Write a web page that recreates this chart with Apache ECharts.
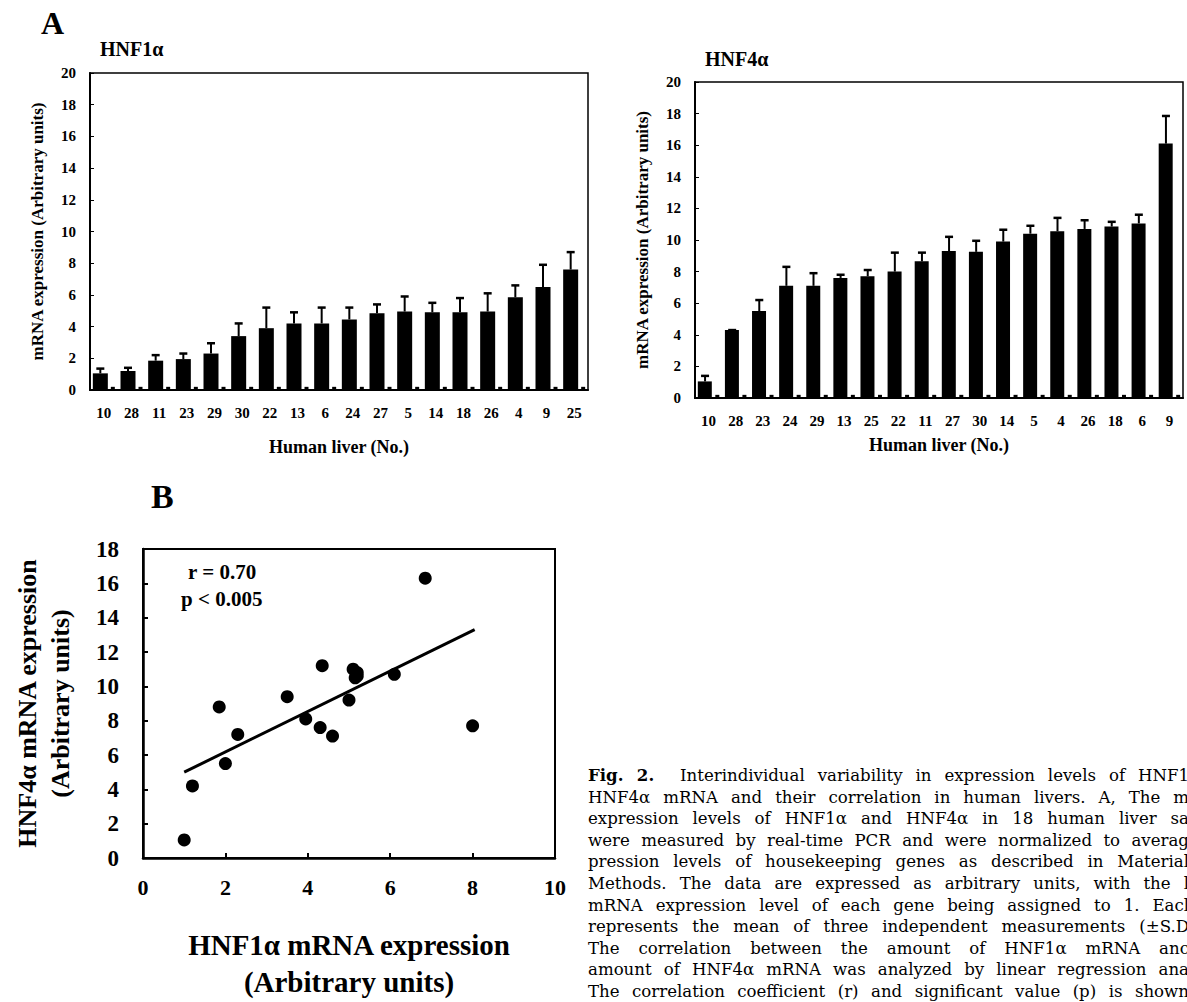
<!DOCTYPE html>
<html>
<head>
<meta charset="utf-8">
<script src="https://cdn.jsdelivr.net/npm/echarts@6/dist/echarts.min.js"></script>
<style>
  html, body { margin: 0; padding: 0; background: #fff; overflow: hidden; }
  #chart { position: absolute; left: 0; top: 0; width: 1187px; height: 1002px; }
  #caption { position: absolute; left: 588px; top: 765px; width: 601px; font-family: "DejaVu Serif"; font-size: 16.6px; color: #000; }
  #caption div { height: 21.6px; line-height: 21.6px; white-space: nowrap; text-align: justify; text-align-last: justify; }
</style>
</head>
<body>
<div id="chart"></div>
<div id="caption">
  <div><b>Fig. 2.</b>&nbsp; Interindividual variability in expression levels of HNF1</div>
  <div>HNF4α mRNA and their correlation in human livers. A, The m</div>
  <div>expression levels of HNF1α and HNF4α in 18 human liver sa</div>
  <div>were measured by real-time PCR and were normalized to averag</div>
  <div>pression levels of housekeeping genes as described in Material</div>
  <div>Methods. The data are expressed as arbitrary units, with the l</div>
  <div>mRNA expression level of each gene being assigned to 1. Eacl</div>
  <div>represents the mean of three independent measurements (±S.D</div>
  <div>The correlation between the amount of HNF1α mRNA anc</div>
  <div>amount of HNF4α mRNA was analyzed by linear regression ana</div>
  <div>The correlation coefficient (r) and significant value (p) is shown</div>
</div>
<script>
// A: HNF1α, livers sorted by expression
const hnf1Livers = ['10', '28', '11', '23', '29', '30', '22', '13', '6', '24', '27', '5', '14', '18', '26', '4', '9', '25'];
const hnf1Mean = [1.05, 1.2, 1.85, 1.95, 2.3, 3.4, 3.9, 4.2, 4.2, 4.45, 4.85, 4.95, 4.9, 4.9, 4.95, 5.85, 6.5, 7.6];
const hnf1Upper = [1.35, 1.4, 2.2, 2.3, 2.95, 4.2, 5.2, 4.9, 5.2, 5.2, 5.4, 5.9, 5.5, 5.8, 6.1, 6.6, 7.9, 8.7];
const hnf1Marks = [0.2, 0.2, 0.2, 0.2, 0.2, 0.2, 0.2, 0.2, 0.2, 0.2, 0.2, 0.2, 0.2, 0.2, 0.2, 0.2, 0.2, 0.2];

// A: HNF4α
const hnf4Livers = ['10', '28', '23', '24', '29', '13', '25', '22', '11', '27', '30', '14', '5', '4', '26', '18', '6', '9'];
const hnf4Mean = [1.05, 4.3, 5.5, 7.1, 7.1, 7.6, 7.7, 8.0, 8.65, 9.3, 9.25, 9.9, 10.4, 10.55, 10.7, 10.85, 11.05, 16.1];
const hnf4Upper = [1.4, 4.3, 6.2, 8.3, 7.9, 7.8, 8.1, 9.2, 9.2, 10.2, 9.95, 10.65, 10.9, 11.4, 11.25, 11.15, 11.6, 17.85];
const hnf4Marks = [0.2, 0.2, 0.2, 0.2, 0.2, 0.2, 0.2, 0.2, 0.2, 0.2, 0.2, 0.2, 0.2, 0.2, 0.2, 0.2, 0.2, 0.2];

// B: correlation
const scatterHnf1 = [1.0, 1.2, 1.85, 2.0, 2.3, 3.5, 3.95, 4.3, 4.35, 4.6, 5.0, 5.15, 5.1, 5.2, 5.2, 6.1, 6.85, 8.0];
const scatterHnf4 = [1.05, 4.2, 8.8, 5.5, 7.2, 9.4, 8.1, 7.6, 11.2, 7.1, 9.2, 10.5, 11.0, 10.8, 10.6, 10.7, 16.3, 7.7];
const fitX = [1.0, 8.05];
const fitY = [5.0, 13.3];

const serif = 'Liberation Serif';

function errorBars(mean, upper, axisIndex) {
  return {
    type: 'custom',
    xAxisIndex: axisIndex,
    yAxisIndex: axisIndex,
    z: 3,
    data: mean.map((m, i) => [i, m, upper[i]]),
    renderItem: function (params, api) {
      const base = api.coord([api.value(0), api.value(1)]);
      const top = api.coord([api.value(0), api.value(2)]);
      const x = base[0] - 3.5;
      return {
        type: 'group',
        children: [
          { type: 'line', shape: { x1: x, y1: base[1], x2: x, y2: top[1] }, style: { stroke: '#000', lineWidth: 2 } },
          { type: 'line', shape: { x1: x - 4, y1: top[1], x2: x + 4, y2: top[1] }, style: { stroke: '#000', lineWidth: 2.5 } }
        ]
      };
    }
  };
}

function barYAxis(gridIndex) {
  return {
    gridIndex: gridIndex,
    type: 'value', min: 0, max: 20, interval: 2,
    name: 'mRNA expression (Arbitrary units)',
    nameLocation: 'middle', nameGap: 44,
    nameTextStyle: { fontFamily: serif, fontWeight: 'bold', fontSize: 17, color: '#000' },
    axisLine: { show: true, lineStyle: { color: '#000', width: 2 } },
    axisTick: { show: true, inside: true, length: 4, lineStyle: { color: '#000' } },
    axisLabel: { fontFamily: serif, fontWeight: 'bold', fontSize: 15, color: '#000', margin: 14 },
    splitLine: { show: false }
  };
}

function barXAxis(gridIndex, cats, gap) {
  return {
    gridIndex: gridIndex,
    type: 'category', data: cats,
    name: 'Human liver (No.)',
    nameLocation: 'middle', nameGap: gap,
    nameTextStyle: { fontFamily: serif, fontWeight: 'bold', fontSize: 18, color: '#000' },
    axisLine: { lineStyle: { color: '#000', width: 2 } },
    axisTick: { show: false },
    axisLabel: { interval: 0, fontFamily: serif, fontWeight: 'bold', fontSize: 15, color: '#000', margin: 15 }
  };
}

var chart = echarts.init(document.getElementById('chart'), null, { renderer: 'svg' });
var option = {
  animation: false,
  backgroundColor: '#fff',
  title: [
    { text: 'A', left: 36, top: 2, textStyle: { fontFamily: serif, fontWeight: 'bold', fontSize: 32, color: '#000' } },
    { text: 'HNF1α', left: 95, top: 34, textStyle: { fontFamily: serif, fontWeight: 'bold', fontSize: 20, color: '#000' } },
    { text: 'HNF4α', left: 700, top: 44, textStyle: { fontFamily: serif, fontWeight: 'bold', fontSize: 20, color: '#000' } },
    { text: 'B', left: 146, top: 474, textStyle: { fontFamily: serif, fontWeight: 'bold', fontSize: 34, color: '#000' } }
  ],
  grid: [
    { left: 90, top: 73, width: 498, height: 317, show: true, borderColor: '#000', borderWidth: 1.5 },
    { left: 695, top: 82, width: 488, height: 316, show: true, borderColor: '#000', borderWidth: 1.5 },
    { left: 143, top: 549, width: 412, height: 309, show: true, borderColor: '#000', borderWidth: 2 }
  ],
  xAxis: [
    barXAxis(0, hnf1Livers, 48),
    barXAxis(1, hnf4Livers, 38),
    {
      gridIndex: 2, type: 'value', min: 0, max: 10, interval: 2,
      name: 'HNF1α mRNA expression\n(Arbitrary units)',
      nameLocation: 'middle', nameGap: 68,
      nameTextStyle: { fontFamily: serif, fontWeight: 'bold', fontSize: 29, lineHeight: 37, color: '#000' },
      axisLine: { lineStyle: { color: '#000', width: 2.5 } },
      axisTick: { show: true, inside: true, length: 5, lineStyle: { color: '#000', width: 2 } },
      axisLabel: { fontFamily: serif, fontWeight: 'bold', fontSize: 22, color: '#000', margin: 18 },
      splitLine: { show: false }
    }
  ],
  yAxis: [
    barYAxis(0),
    barYAxis(1),
    {
      gridIndex: 2, type: 'value', min: 0, max: 18, interval: 2,
      name: 'HNF4α mRNA expression\n(Arbitrary units)',
      nameLocation: 'middle', nameGap: 66,
      nameTextStyle: { fontFamily: serif, fontWeight: 'bold', fontSize: 26, lineHeight: 33, color: '#000' },
      axisLine: { show: true, lineStyle: { color: '#000', width: 2.5 } },
      axisTick: { show: true, inside: true, length: 5, lineStyle: { color: '#000', width: 2 } },
      axisLabel: { fontFamily: serif, fontWeight: 'bold', fontSize: 23, color: '#000', margin: 24 },
      splitLine: { show: false }
    }
  ],
  graphic: [
    { type: 'text', left: 188, top: 561, style: { text: 'r = 0.70', font: 'bold 21px "Liberation Serif"', fill: '#000' } },
    { type: 'text', left: 181, top: 588, style: { text: 'p < 0.005', font: 'bold 21px "Liberation Serif"', fill: '#000' } }
  ],
  series: [
    { type: 'bar', xAxisIndex: 0, yAxisIndex: 0, data: hnf1Mean, barWidth: 15, barGap: '20%', itemStyle: { color: '#000' } },
    { type: 'bar', xAxisIndex: 0, yAxisIndex: 0, data: hnf1Marks, barWidth: 4, barGap: '20%', itemStyle: { color: '#000' } },
    errorBars(hnf1Mean, hnf1Upper, 0),
    { type: 'bar', xAxisIndex: 1, yAxisIndex: 1, data: hnf4Mean, barWidth: 14, barGap: '25%', itemStyle: { color: '#000' } },
    { type: 'bar', xAxisIndex: 1, yAxisIndex: 1, data: hnf4Marks, barWidth: 4, barGap: '25%', itemStyle: { color: '#000' } },
    errorBars(hnf4Mean, hnf4Upper, 1),
    {
      type: 'scatter', xAxisIndex: 2, yAxisIndex: 2,
      data: scatterHnf1.map((x, i) => [x, scatterHnf4[i]]),
      symbolSize: 13, itemStyle: { color: '#000', opacity: 1 }
    },
    {
      type: 'line', xAxisIndex: 2, yAxisIndex: 2,
      data: fitX.map((x, i) => [x, fitY[i]]),
      symbol: 'none', lineStyle: { color: '#000', width: 3 }
    }
  ]
};
chart.setOption(option);
</script>
</body>
</html>
